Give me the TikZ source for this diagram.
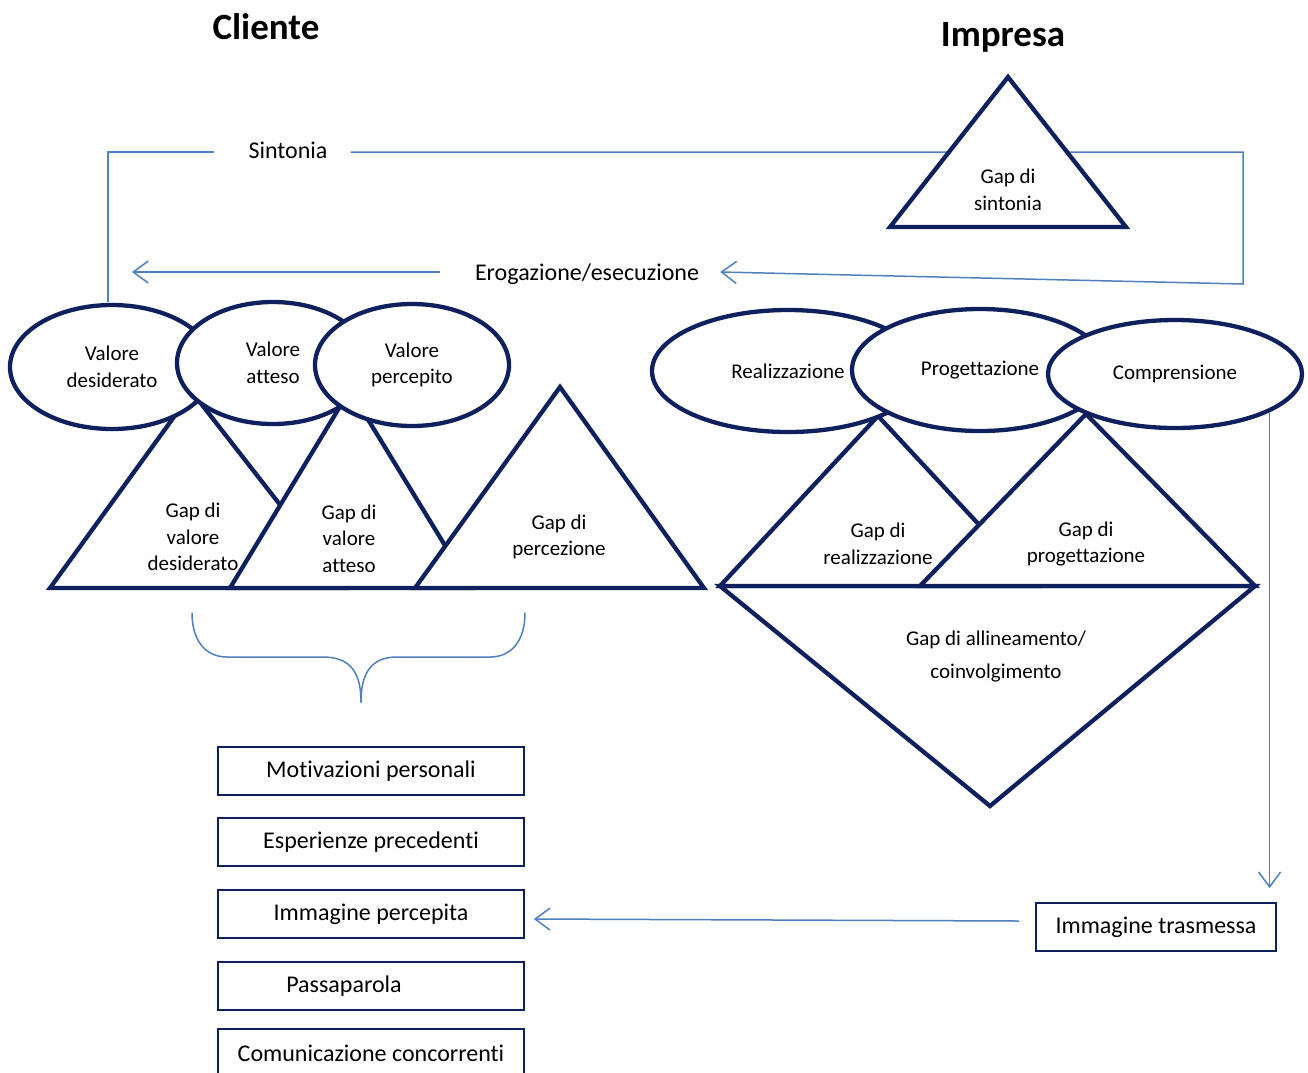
\documentclass[tikz,border=0pt]{standalone}
\usepackage{fontspec}
\setmainfont{Carlito}[Ligatures=NoCommon]
\usetikzlibrary{arrows.meta,shapes.geometric,calc}
\definecolor{navy}{RGB}{14,33,94}
\definecolor{lblue}{RGB}{79,129,189}
\newcommand{\myfontA}{\fontsize{21}{26.5}\selectfont}
\newcommand{\myfontB}{\fontsize{24}{28}\selectfont}
\newcommand{\myfontT}{\bfseries\fontsize{37}{42}\selectfont}
\begin{document}
\begin{tikzpicture}[x=1pt,y=-1pt,
  nv/.style={draw=navy, line width=4.3pt, fill=white, line join=miter},
  ell/.style={ellipse, draw=navy, line width=4.3pt, fill=white, inner sep=0pt, align=center, font=\myfontA},
  lbl/.style={align=center, font=\myfontA, inner sep=0pt},
  lbltwo/.style={font=\myfontB, inner sep=0pt},
  titlenode/.style={font=\myfontT, inner sep=0pt},
  box/.style={draw=navy, line width=1.6pt, fill=white, minimum width=306pt, minimum height=48pt, inner sep=0pt, font=\myfontB},
  conn/.style={draw=lblue, line width=1.5pt},
  arr/.style={conn, -{Straight Barb[length=15pt,width=22pt]}}]
\useasboundingbox (0,0) rectangle (1308,1072);
\fill[white] (0,0) rectangle (1308,1072);
\clip (0,0) rectangle (1308,1072);

% titles
\node[titlenode] (cli) at (266,27) {Cliente};
\node[titlenode] (imp) at (1003,37) {Impresa};

% blue connectors (top)
\node[lbltwo] (sint) at (288,150) {Sintonia};
\node[lbltwo] (erog) at (587,274) {Erogazione/esecuzione};
\coordinate (sa) at (108,302);
\coordinate (c1) at (1243,152);
\coordinate (c2) at (1243,284);
\coordinate (ea) at (132,272);
\draw[conn] (sa) |- ($(sint.west)+(-34,2)$);
\draw[arr] ($(sint.east)+(23,2)$) -- (c1) -- (c2) -- ($(erog.east)+(21,-2)$);
\draw[arr] ($(erog.west)+(-35,-2)$) -- (ea);

% gap di sintonia
\draw[nv] (1008,77) -- (1126,227) -- (890,227) -- cycle;
\node[lbl] (gs) at (1008,190) {Gap di\\sintonia};

% left triangles
\draw[nv] (192,392) -- (345,588) -- (50,588) -- cycle;
\draw[nv] (350,390) -- (471,588) -- (230,588) -- cycle;
\draw[nv] (560,387) -- (704,588) -- (415,588) -- cycle;

% left ellipses
\node[ell, minimum width=204pt, minimum height=124pt] (desid) at (112,367) {Valore\\desiderato};
\node[ell, minimum width=192pt, minimum height=122pt] (atteso) at (273,363) {Valore\\atteso};
\node[ell, minimum width=194pt, minimum height=122pt] (perc) at (412,365) {Valore\\percepito};

\node[lbl] (t1) at (193,537) {Gap di\\valore\\desiderato};
\node[lbl] (t2) at (349,538.5) {Gap di\\valore\\atteso};
\node[lbl] (t3) at (559,537) {Gap di\\percezione};

% right shapes
\draw[nv] (720,586) -- (1255,586) -- (990,806) -- cycle;
\draw[nv] (878,416) -- (1036,586) -- (720,586) -- cycle;
\draw[nv] (1086,414) -- (1255,586) -- (920,586) -- cycle;

\node[ell, minimum width=272pt, minimum height=122pt] (real) at (788,371) {Realizzazione};
\node[ell, minimum width=256pt, minimum height=122pt] (prog) at (980,370) {Progettazione};
\node[ell, minimum width=254pt, minimum height=108pt] (compr) at (1175,374) {Comprensione};

\node[lbl] (t4) at (878,544) {Gap di\\realizzazione};
\node[lbl] (t5) at (1086,544) {Gap di\\progettazione};
\node[lbl, font=\fontsize{21}{33}\selectfont] (t6) at (996,656) {Gap di allineamento/\\coinvolgimento};

% brace
\draw[conn, line cap=round] (192,613) .. controls (192,640) and (205,657) .. (227,657) -- (323,657)
  .. controls (350,657) and (361,672) .. (361,702);
\draw[conn, line cap=round] (525,613) .. controls (525,640) and (512,657) .. (490,657) -- (397,657)
  .. controls (372,657) and (361,672) .. (361,702);

% boxes
\node[box] (mot) at (371,771) {Motivazioni personali};
\node[box] (esp) at (371,842) {Esperienze precedenti};
\node[box] (imgp) at (371,914) {Immagine percepita};
\node[box] (pass) at (371,986) {\hspace*{-54pt}Passaparola};
\node[box] (com) at (371,1053) {Comunicazione concorrenti};
\node[box, minimum width=240pt] (trasm) at (1156,927) {Immagine trasmessa};

% lower connectors
\draw[arr, shorten >=14pt] (compr.-22) -- (compr.-22 |- trasm.north);
\draw[arr] ($(trasm.west)+(-16,-6)$) -- ($(imgp.east)+(9,5)$);
\end{tikzpicture}
\end{document}
